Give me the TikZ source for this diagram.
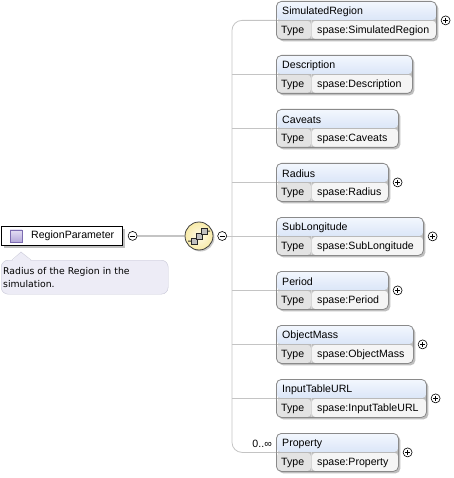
\documentclass[tikz,border=0pt]{standalone}
\usepackage{fontspec}
\setmainfont{Liberation Sans}
\newfontfamily\notefont{DejaVu Sans}
\usetikzlibrary{positioning,shadows}

\definecolor{headtop}{HTML}{F3F7FE}
\definecolor{headbot}{HTML}{C2D4F1}
\definecolor{typecell}{HTML}{E3E3E3}
\definecolor{valcell}{HTML}{F5F5F5}
\definecolor{boxline}{HTML}{8A8A8A}
\definecolor{treeline}{HTML}{C4C4C4}
\definecolor{notefill}{HTML}{EDECF6}
\definecolor{noteline}{HTML}{C6C6D6}
\definecolor{seqfill}{HTML}{F8EBA8}
\definecolor{icontop}{HTML}{E4DEF4}
\definecolor{iconbot}{HTML}{B4A8DA}
\definecolor{iconline}{HTML}{7C6CB0}

\tikzset{
  element/.style={draw=boxline, line width=0.8pt, rounded corners=5pt,
    minimum height=38pt, inner sep=0pt, anchor=north west,
    drop shadow={shadow xshift=2pt, shadow yshift=-2pt, opacity=0.25, fill=black},
    path picture={
      \shade[top color=headtop, bottom color=headbot]
        (path picture bounding box.north west) rectangle ([yshift=-19pt]path picture bounding box.north east);
      \fill[typecell] ([yshift=-19pt]path picture bounding box.north west) rectangle ([xshift=35pt]path picture bounding box.south west);
      \fill[valcell] ([xshift=35pt,yshift=-19pt]path picture bounding box.north west) rectangle (path picture bounding box.south east);
      \draw[boxline!60] ([yshift=-19pt]path picture bounding box.north west) -- ([yshift=-19pt]path picture bounding box.north east);
      \draw[boxline!35] ([xshift=35pt,yshift=-19pt]path picture bounding box.north west) -- ([xshift=35pt]path picture bounding box.south west);
    }},
  eltext/.style={anchor=west, inner sep=0pt, font=\fontsize{10.6}{12}\selectfont},
  expander/.style={circle, draw=black, line width=0.6pt, fill=white, minimum size=9pt, inner sep=0pt},
  plusmark/.style={expander, path picture={
    \draw[line width=0.6pt] (path picture bounding box.center) +(-2.5pt,0) -- +(2.5pt,0)
      (path picture bounding box.center) +(0,-2.5pt) -- +(0,2.5pt);}},
  minusmark/.style={expander, path picture={
    \draw[line width=0.6pt] (path picture bounding box.center) +(-2.5pt,0) -- +(2.5pt,0);}},
  notebox/.style={draw=noteline, fill=notefill, rounded corners=7pt, anchor=north west,
    text width=163pt, inner xsep=2pt, inner ysep=0pt, minimum height=34pt, align=left,
    font=\notefont\fontsize{9.3}{13}\selectfont},
}

\begin{document}
\begin{tikzpicture}[x=1pt, y=-1pt]
\useasboundingbox (0,0) rectangle (453,478);

% the element on the left with its annotation
\node[draw=black, line width=0.8pt, fill=white, minimum width=121pt, minimum height=19pt,
  inner sep=0pt, anchor=north west,
  drop shadow={shadow xshift=3pt, shadow yshift=-3pt, opacity=0.25, fill=black}] (region) at (1,226) {};
\node[draw=iconline, top color=icontop, bottom color=iconbot, minimum size=12pt, inner sep=0pt]
  (regionicon) at ([xshift=15pt]region.west) {};
\node[eltext] (regionname) at ([xshift=30pt]region.west) {RegionParameter};
\node[minusmark, right=5pt of region] (regionminus) {};

\node[notebox] (note) at (1,260) {Radius of the Region in the\\simulation.};
\coordinate (notetip) at (21,252);
\fill[notefill] ([xshift=11pt,yshift=-1pt]note.north west) -- (notetip) -- ([xshift=30pt,yshift=-1pt]note.north west) -- cycle;
\draw[noteline] ([xshift=11pt]note.north west) -- (notetip) -- ([xshift=30pt]note.north west);

% sequence compositor
\node[circle, draw=black!75, line width=0.8pt, minimum size=28pt, inner sep=0pt,
  inner color=seqfill!25!white, outer color=seqfill,
  drop shadow={shadow xshift=1.5pt, shadow yshift=-1.5pt, opacity=0.2, fill=black}] (seq) at (199,236) {};
\draw[black!65, line width=0.8pt] (regionminus) -- (seq);
\draw[black!80, line width=1pt] ([shift={(-11,5)}]seq.center) -- ++(6,0) -- ++(10,-10) -- ++(6,0);
\foreach \d in {-5,0,5}
  \filldraw[fill=black!25, draw=black!85, line width=0.6pt]
    ([shift={({\d-3},{-\d-3})}]seq.center) rectangle ++(6,6);
\node[minusmark, right=4pt of seq] (seqminus) {};

% children of the sequence
\coordinate (trunk) at (232,236);
\foreach \name/\w/\more [count=\i from 0] in {SimulatedRegion/160/1, Description/136/0,
  Caveats/122/0, Radius/112/1, SubLongitude/147/1, Period/112/1, ObjectMass/137/1,
  InputTableURL/150/1, Property/122/1}{
  \node[element, minimum width=\w pt] (box\i) at (276,{1+54*\i}) {};
  \node[eltext] (head\i) at ([xshift=6pt,yshift=-10.5pt]box\i.north west) {\name};
  \node[eltext] (type\i) at ([xshift=5pt,yshift=9pt]box\i.south west) {Type};
  \node[eltext] (val\i) at ([xshift=41pt,yshift=9pt]box\i.south west) {spase:\name};
  \ifnum\more=1 \node[plusmark, right=4pt of box\i] (plus\i) {}; \fi
}
\draw[treeline, line width=0.8pt, rounded corners=10pt]
  (box0.west) -- (box0.west -| trunk) -- (box8.west -| trunk) -- (box8.west);
\foreach \i in {1,...,7}
  \draw[treeline, line width=0.8pt] (box\i.west -| trunk) -- (box\i.west);
\draw[treeline, line width=0.8pt] (seqminus) -- (seqminus -| trunk);

\node[eltext, anchor=east] (multi) at ([xshift=-4pt,yshift=8.5pt]box8.west) {0..∞};

\end{tikzpicture}
\end{document}
